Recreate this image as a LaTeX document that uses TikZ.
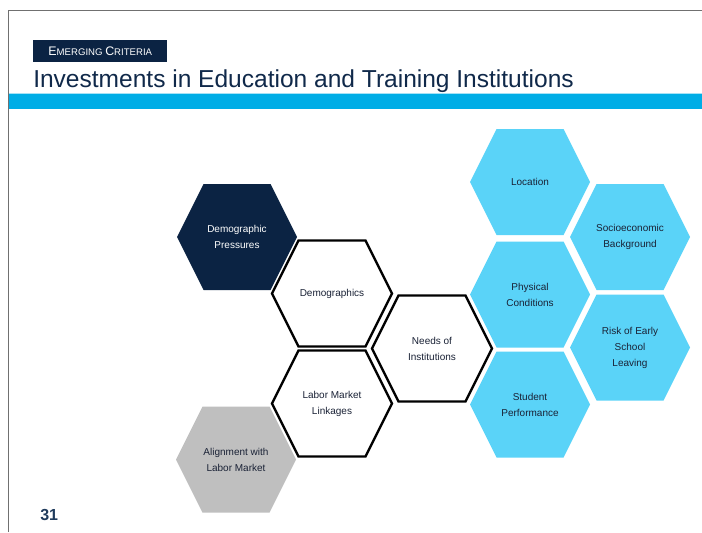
\documentclass[tikz,border=0pt]{standalone}
\usepackage{fontspec}
\setmainfont{Liberation Sans}
\definecolor{navy}{HTML}{0B2343}
\definecolor{titlenavy}{HTML}{10294A}
\definecolor{barblue}{HTML}{00ADE6}
\definecolor{hexcyan}{HTML}{5AD3F8}
\definecolor{hexgray}{HTML}{BFBFBF}
\definecolor{hextxt}{HTML}{1A2236}
\definecolor{framegray}{HTML}{707070}
\definecolor{numnavy}{HTML}{1F3B5C}
\tikzset{
  hexnavy/.style={fill=navy},
  hexcyanfill/.style={fill=hexcyan},
  hexgrayfill/.style={fill=hexgray},
  hexline/.style={draw=black, fill=white, line width=1.8pt, line join=miter},
  hextext/.style={align=center, inner sep=0pt, font=\fontsize{7.5}{12}\selectfont, text=hextxt},
  hextextwhite/.style={hextext, text=white},
}
\newcommand\hexcell[6]{%
  \path[#4] (#2-60,#3) -- (#2-33.5,#3-53) -- (#2+33.5,#3-53) -- (#2+60,#3) -- (#2+33.5,#3+53) -- (#2-33.5,#3+53) -- cycle;
  \node[#5] (#1) at (#2,#3) {#6};
}
\begin{document}
\begin{tikzpicture}[x=0.75pt,y=-0.75pt]
\useasboundingbox[fill=white] (0,0) rectangle (702,532);
% frame
\draw[framegray, line width=1.2pt] (8.5,532) -- (8.5,10.5) -- (702,10.5);
% blue bar
\fill[barblue!35] (9.3,92.5) rectangle (702,94);
\fill[barblue] (9.3,94) rectangle (702,109);
% tag
\node[fill=navy, minimum width=100.5pt, minimum height=16.5pt, anchor=north west, inner sep=0pt, text=white] (tag) at (33,40)
  {{\fontsize{9.3}{10}\selectfont E}{\fontsize{7.2}{10}\selectfont MERGING}{\fontsize{7.2}{10}\selectfont\ }{\fontsize{9.3}{10}\selectfont C}{\fontsize{7.2}{10}\selectfont RITERIA}};
% title
\node[anchor=base west, inner sep=0pt, font=\fontsize{18.4}{22}\selectfont, text=titlenavy] (title) at (33,87)
  {Investments in Education and Training Institutions};
% hexagons
\hexcell{dp}{237}{237}{hexnavy}{hextextwhite}{Demographic\\Pressures}
\hexcell{demo}{332}{293.5}{hexline}{hextext}{Demographics}
\hexcell{lml}{332}{403.5}{hexline}{hextext}{Labor Market\\Linkages}
\hexcell{align}{236}{459.5}{hexgrayfill}{hextext}{Alignment with\\Labor Market}
\hexcell{needs}{432}{348.5}{hexline}{hextext}{Needs of\\Institutions}
\hexcell{loc}{530}{182}{hexcyanfill}{hextext}{Location}
\hexcell{phys}{530}{294.5}{hexcyanfill}{hextext}{Physical\\Conditions}
\hexcell{stud}{530}{404.5}{hexcyanfill}{hextext}{Student\\Performance}
\hexcell{socio}{630}{237}{hexcyanfill}{hextext}{Socioeconomic\\Background}
\hexcell{risk}{630}{347.5}{hexcyanfill}{hextext}{Risk of Early\\School\\Leaving}
% page number
\node[anchor=base west, inner sep=0pt, font=\bfseries\fontsize{12}{14}\selectfont, text=numnavy] (pagenum) at (40,520) {31};
\end{tikzpicture}
\end{document}
